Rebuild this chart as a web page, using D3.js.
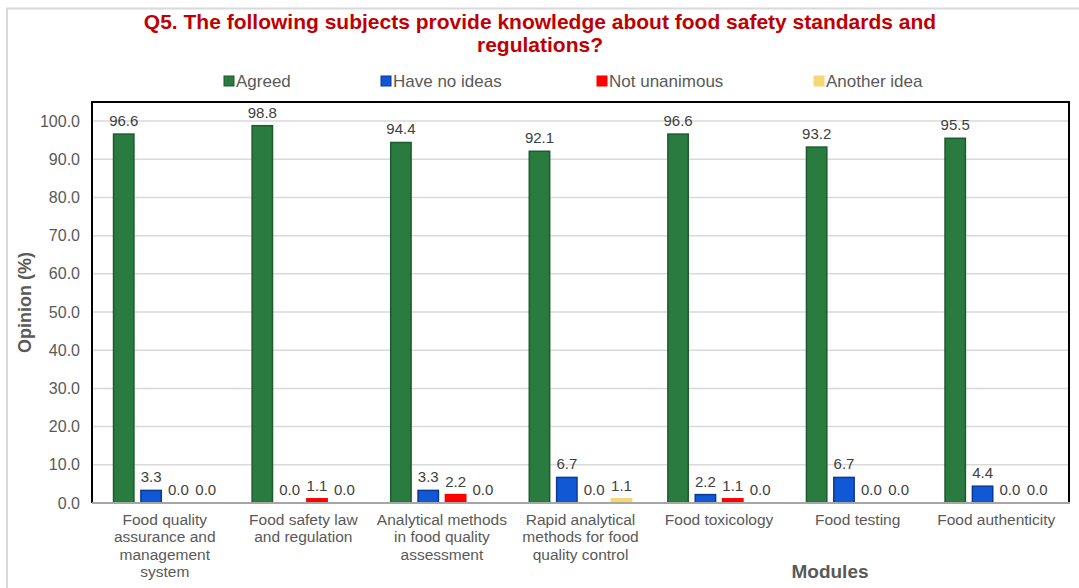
<!DOCTYPE html>
<html>
<head>
<meta charset="utf-8">
<script src="https://cdn.jsdelivr.net/npm/d3@7"></script>
<style>
  body { margin: 0; background: #fff; }
  svg { font-family: "Liberation Sans", Arial, sans-serif; }
</style>
</head>
<body>
<div id="chart"></div>
<script>
// Data
const modules = [
    "Food quality assurance and management system",
    "Food safety law and regulation",
    "Analytical methods in food quality assessment",
    "Rapid analytical methods for food quality control",
    "Food toxicology",
    "Food testing",
    "Food authenticity"
];
// wrapped lines for the x labels
const moduleLines = [
    ["Food quality", "assurance and", "management", "system"],
    ["Food safety law", "and regulation"],
    ["Analytical methods", "in food quality", "assessment"],
    ["Rapid analytical", "methods for food", "quality control"],
    ["Food toxicology"],
    ["Food testing"],
    ["Food authenticity"]
];
const seriesNames = ["Agreed", "Have no ideas", "Not unanimous", "Another idea"];
const agreed      = [96.6, 98.8, 94.4, 92.1, 96.6, 93.2, 95.5];
const noIdeas     = [3.3, 0.0, 3.3, 6.7, 2.2, 6.7, 4.4];
const notUnanim   = [0.0, 1.1, 2.2, 0.0, 1.1, 0.0, 0.0];
const anotherIdea = [0.0, 0.0, 0.0, 1.1, 0.0, 0.0, 0.0];
const yTicks = [0, 10, 20, 30, 40, 50, 60, 70, 80, 90, 100];

const seriesValues = [agreed, noIdeas, notUnanim, anotherIdea];
const fills   = ["#2a7b40", "#1158d6", "#ff0000", "#f7d774"];
const strokes = ["#1d5a2c", "#0b3a94", "#ff0000", "#f7d774"];

const width = 1079, height = 588;
const plot = { left: 92, right: 1069, top: 102, bottom: 503 };

const svg = d3.select("#chart").append("svg")
    .attr("width", width)
    .attr("height", height);

// outer chart frame (light gray)
svg.append("path")
    .attr("d", `M7,${height} V8.5 H${width}`)
    .attr("fill", "none")
    .attr("stroke", "#d9d9d9")
    .attr("stroke-width", 2);

// scales
const y = d3.scaleLinear().domain([0, 105]).range([plot.bottom, plot.top]);
const x0 = d3.scaleBand().domain(modules).range([plot.left, plot.right])
    .paddingInner(0.25).paddingOuter(0.15);
const x1 = d3.scaleBand().domain(seriesNames).range([0, x0.bandwidth()])
    .paddingInner(0.2);

// gridlines
svg.append("g")
    .selectAll("line")
    .data(yTicks.filter(d => d > 0))
    .enter()
    .append("line")
    .attr("x1", plot.left).attr("x2", plot.right)
    .attr("y1", d => y(d)).attr("y2", d => y(d))
    .attr("stroke", "#d9d9d9")
    .attr("stroke-width", 1.5);

// y axis labels
const yAxis = svg.append("g")
    .attr("transform", `translate(${plot.left},0)`)
    .call(d3.axisLeft(y).tickValues(yTicks).tickFormat(d3.format(".1f")).tickSize(0).tickPadding(12));
yAxis.select(".domain").remove();
yAxis.selectAll("text")
    .attr("fill", "#595959")
    .style("font-size", "16px");

// bars
const table = modules.map((m, i) => seriesNames.map((s, j) => ({ module: m, series: s, value: seriesValues[j][i], j: j })));

const groups = svg.append("g")
    .selectAll("g")
    .data(table)
    .enter()
    .append("g")
    .attr("transform", (d, i) => `translate(${x0(modules[i])},0)`);

groups.selectAll("rect")
    .data(d => d)
    .enter()
    .append("rect")
    .attr("x", d => x1(d.series) + 0.75)
    .attr("width", x1.bandwidth() - 1.5)
    .attr("y", d => y(d.value))
    .attr("height", d => plot.bottom - y(d.value))
    .attr("fill", d => fills[d.j])
    .attr("stroke", d => d.value > 0 ? strokes[d.j] : "none")
    .attr("stroke-width", 1.5);

groups.selectAll("text")
    .data(d => d)
    .enter()
    .append("text")
    .attr("x", d => x1(d.series) + x1.bandwidth() / 2)
    .attr("y", d => y(d.value) - 8)
    .attr("text-anchor", "middle")
    .attr("fill", "#404040")
    .style("font-size", "15px")
    .text(d => d.value.toFixed(1));

// plot frame: black top/left/right, gray bottom axis
svg.append("path")
    .attr("d", `M${plot.left},${plot.bottom} V${plot.top} H${plot.right} V${plot.bottom}`)
    .attr("fill", "none")
    .attr("stroke", "#000")
    .attr("stroke-width", 2);
svg.append("line")
    .attr("x1", plot.left).attr("x2", plot.right + 1)
    .attr("y1", plot.bottom).attr("y2", plot.bottom)
    .attr("stroke", "#a6a6a6")
    .attr("stroke-width", 2);

// x category labels
const xLab = svg.append("g")
    .selectAll("text")
    .data(moduleLines)
    .enter()
    .append("text")
    .attr("text-anchor", "middle")
    .attr("fill", "#595959")
    .style("font-size", "15.5px")
    .attr("transform", (d, i) => `translate(${x0(modules[i]) + x0.bandwidth() / 2},${plot.bottom + 22})`);
xLab.selectAll("tspan")
    .data(d => d)
    .enter()
    .append("tspan")
    .attr("x", 0)
    .attr("dy", (d, i) => i === 0 ? 0 : 17.3)
    .text(d => d);

// title
svg.append("text")
    .attr("x", 540)
    .attr("y", 29)
    .attr("text-anchor", "middle")
    .attr("fill", "#c00000")
    .style("font-size", "21px")
    .style("font-weight", "bold")
    .text("Q5. The following subjects provide knowledge about food safety standards and");
svg.append("text")
    .attr("x", 540)
    .attr("y", 52)
    .attr("text-anchor", "middle")
    .attr("fill", "#c00000")
    .style("font-size", "21px")
    .style("font-weight", "bold")
    .text("regulations?");

// legend
const legendX = [224, 381, 597, 814];
const legend = svg.append("g")
    .selectAll("g")
    .data(seriesNames)
    .enter()
    .append("g")
    .attr("transform", (d, i) => `translate(${legendX[i]},81)`);
legend.append("rect")
    .attr("x", 0).attr("y", -5)
    .attr("width", 10).attr("height", 10)
    .attr("fill", (d, i) => fills[i])
    .attr("stroke", (d, i) => strokes[i]);
legend.append("text")
    .attr("x", 12)
    .attr("y", 6)
    .attr("fill", "#595959")
    .style("font-size", "17px")
    .text(d => d);

// axis titles
svg.append("text")
    .attr("transform", `translate(31,${(plot.top + plot.bottom) / 2}) rotate(-90)`)
    .attr("text-anchor", "middle")
    .attr("fill", "#595959")
    .style("font-size", "18px")
    .style("font-weight", "bold")
    .text("Opinion (%)");
svg.append("text")
    .attr("x", 830)
    .attr("y", 578)
    .attr("text-anchor", "middle")
    .attr("fill", "#595959")
    .style("font-size", "19px")
    .style("font-weight", "bold")
    .text("Modules");
</script>
</body>
</html>
